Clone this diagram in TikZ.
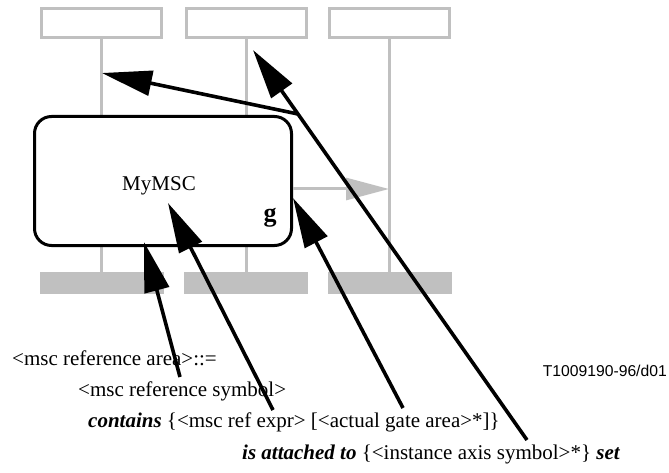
\documentclass[tikz,border=0pt]{standalone}
\usepackage{fontspec}
\setmainfont{Liberation Serif}
\newfontfamily\sansf{Liberation Sans}
\usetikzlibrary{arrows.meta}
\definecolor{lgray}{RGB}{192,192,192}
\begin{document}
\begin{tikzpicture}[x=1pt,y=-1pt,
  headbox/.style={draw=lgray,line width=3pt,minimum width=120pt,minimum height=29pt,inner sep=0pt},
  axis/.style={draw=lgray,line width=3pt},
  foot/.style={fill=lgray,minimum width=124pt,minimum height=22pt,inner sep=0pt},
  refbox/.style={draw=black,fill=white,line width=3pt,rounded corners=17pt,minimum width=257pt,minimum height=129pt,inner sep=0pt},
  msg/.style={draw=lgray,line width=3pt,-{Triangle[length=43pt,width=22pt]}},
  pointer/.style={draw=black,line width=3.6pt,-{Triangle[length=50pt,width=25pt]}},
  txt/.style={font=\fontsize{21}{25}\selectfont,inner sep=0pt,anchor=base west},
]
\useasboundingbox (0,0) rectangle (669,473);
% instance heads
\node[headbox] (h1) at (101.5,23) {};
\node[headbox] (h2) at (246,23) {};
\node[headbox] (h3) at (389,23) {};
% instance feet
\node[foot] (f1) at (102,283) {};
\node[foot] (f2) at (245.5,283) {};
\node[foot] (f3) at (389.5,283) {};
% axes
\draw[axis] (h1.south) -- (h1.south |- f1.north);
\draw[axis] (h2.south) -- (h2.south |- f2.north);
\draw[axis] (h3.south) -- (h3.south |- f3.north);
% msc reference
\node[refbox] (ref) at (163,181) {};
\node[font=\fontsize{21}{25}\selectfont,inner sep=0pt,anchor=base] (name) at (159,190) {MyMSC};
\node[font=\fontsize{26}{30}\selectfont\bfseries,inner sep=0pt,anchor=base] (gate) at (270,222) {g};
% message
\coordinate (mstart) at (ref.east |- 0,189);
\coordinate (mend) at (389,189);
\draw[msg] (mstart) -- (mend);
% texts
\node[txt] (t1) at (12,365) {<msc reference area>::=};
\node[txt] (t2) at (78,396) {<msc reference symbol>};
\node[txt] (t3) at (88,427) {\textbf{\textit{contains}} \{<msc ref expr> [<actual gate area>*]\}};
\node[txt] (t4) at (242,459) {\textbf{\textit{is attached to}} \{<instance axis symbol>*\} \textbf{\textit{set}}};
\node[font=\sansf\fontsize{15.7}{18}\selectfont,inner sep=0pt,anchor=base east] (code) at (667,376) {T1009190-96/d01};
% pointer coordinates
\coordinate (eA) at (180,377);
\coordinate (tA) at (144,242);
\coordinate (eD) at (273,410);
\coordinate (tD) at (168,203);
\coordinate (eC) at (403,408);
\coordinate (tC) at (293,198);
\coordinate (eB) at (527,440);
\coordinate (tB) at (253,50);
\coordinate (j) at (298,114);
\coordinate (tJ) at (102,73);
% pointers
\draw[pointer] (eA) -- (tA);
\draw[pointer] (eD) -- (tD);
\draw[pointer] (eC) -- (tC);
\draw[pointer] (eB) -- (tB);
\draw[pointer] (j) -- (tJ);
\end{tikzpicture}
\end{document}
